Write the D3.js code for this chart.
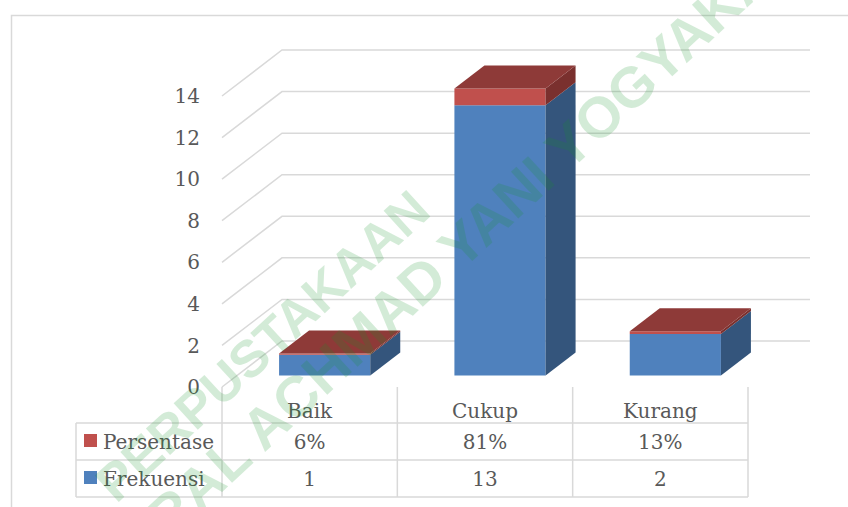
<!DOCTYPE html>
<html>
<head>
<meta charset="utf-8">
<script src="https://cdn.jsdelivr.net/npm/d3@7"></script>
<style>
  body { margin: 0; background: #fff; }
  .lbl { font-family: "DejaVu Serif", serif; fill: #595959; font-size: 20px; }
  .wm { font-family: "Liberation Sans", Arial, sans-serif; font-weight: bold; fill: rgb(20,150,40); }
</style>
</head>
<body>
<div id="chart"></div>
<script>
// Chart data
const categories = ["Baik", "Cukup", "Kurang"];
const frekuensi = [1, 13, 2];
const persentase = [0.06, 0.81, 0.13];
const persentaseLabels = ["6%", "81%", "13%"];
const yTicks = [0, 2, 4, 6, 8, 10, 12, 14];
const seriesNames = ["Persentase", "Frekuensi"];

const width = 848;
const height = 507;

const svg = d3.select("#chart").append("svg")
    .attr("width", width)
    .attr("height", height);

// chart border
svg.append("rect")
    .attr("x", 11.5).attr("y", 15.5)
    .attr("width", 900).attr("height", 600)
    .attr("fill", "none")
    .attr("stroke", "#d9d9d9")
    .attr("stroke-width", 1.5);

// 3D geometry (oblique)
const depthX = 60, depthY = -46;
const x = d3.scaleBand().domain(categories).range([222, 748])
    .paddingInner(0.48).paddingOuter(0.24);
const cols = d3.scaleBand().domain(categories).range([222, 748]);
const y = d3.scaleLinear().domain([0, 14]).range([387, 96]);

const pt = (px, v, d) => [px + d * depthX, y(v) + d * depthY];
const poly = pts => pts.map(p => p.join(",")).join(" ");

// gridlines: side wall diagonals + back wall
const grid = svg.append("g").attr("stroke", "#d9d9d9").attr("stroke-width", 1.5).attr("fill", "none");
yTicks.forEach(t => {
    grid.append("polyline")
        .attr("points", poly([pt(222, t, 0), pt(222, t, 1), pt(750, t, 1)]));
});

// y axis labels
svg.append("g").selectAll("text")
    .data(yTicks).enter().append("text")
    .attr("class", "lbl")
    .attr("x", 200)
    .attr("y", d => y(d))
    .attr("dy", "0.36em")
    .attr("text-anchor", "end")
    .text(d => d);

// stacked 3D bars
const stack = categories.map((c, i) => ({
    cat: c,
    segs: [
        { v0: 0, v1: frekuensi[i], front: "#4f81bd", side: "#34557c", top: "#3d6797" },
        { v0: frekuensi[i], v1: frekuensi[i] + persentase[i], front: "#c0504d", side: "#7a302e", top: "#8e3a38" }
    ]
}));
const d0 = 0.25, d1 = 0.75;
const bars = svg.append("g");
stack.forEach(b => {
    const bx = x(b.cat), bw = x.bandwidth();
    b.segs.forEach((s, k) => {
        bars.append("polygon")
            .attr("points", poly([pt(bx, s.v0, d0), pt(bx + bw, s.v0, d0), pt(bx + bw, s.v1, d0), pt(bx, s.v1, d0)]))
            .attr("fill", s.front);
        bars.append("polygon")
            .attr("points", poly([pt(bx + bw, s.v0, d0), pt(bx + bw, s.v0, d1), pt(bx + bw, s.v1, d1), pt(bx + bw, s.v1, d0)]))
            .attr("fill", s.side);
        if (k === b.segs.length - 1) {
            bars.append("polygon")
                .attr("points", poly([pt(bx, s.v1, d0), pt(bx + bw, s.v1, d0), pt(bx + bw, s.v1, d1), pt(bx, s.v1, d1)]))
                .attr("fill", s.top);
        }
    });
});

// data table
const table = svg.append("g");
const lines = table.append("g").attr("stroke", "#d9d9d9").attr("stroke-width", 1.5);
const rowY = [423, 460, 497];
rowY.forEach(ry => lines.append("line").attr("x1", 76).attr("x2", 748).attr("y1", ry).attr("y2", ry));
lines.append("line").attr("x1", 76).attr("x2", 76).attr("y1", 423).attr("y2", 497);
categories.concat(["end"]).forEach((c, i) => {
    const lx = i < categories.length ? cols(c) : 748;
    lines.append("line").attr("x1", lx).attr("x2", lx).attr("y1", 387).attr("y2", 497);
});

table.selectAll("text.cat")
    .data(categories).enter().append("text")
    .attr("class", "lbl")
    .attr("x", d => cols(d) + cols.bandwidth() / 2)
    .attr("y", 418)
    .attr("text-anchor", "middle")
    .text(d => d);

const rows = [
    { name: seriesNames[0], color: "#c0504d", vals: persentaseLabels, base: 449 },
    { name: seriesNames[1], color: "#4f81bd", vals: frekuensi, base: 486 }
];
rows.forEach(r => {
    table.append("rect")
        .attr("x", 84).attr("y", r.base - 15)
        .attr("width", 13).attr("height", 13)
        .attr("fill", r.color);
    table.append("text")
        .attr("class", "lbl")
        .attr("x", 103).attr("y", r.base)
        .text(r.name);
    table.selectAll(null)
        .data(r.vals).enter().append("text")
        .attr("class", "lbl")
        .attr("x", (d, i) => cols(categories[i]) + cols.bandwidth() / 2)
        .attr("y", r.base)
        .attr("text-anchor", "middle")
        .text(d => d);
});

// watermark
const wm = svg.append("g").attr("opacity", 0.18);
wm.append("text")
    .attr("class", "wm")
    .style("font-size", "52px")
    .attr("transform", "translate(433,214) rotate(-42.5)")
    .attr("text-anchor", "end")
    .text("PERPUSTAKAAN");
wm.append("text")
    .attr("class", "wm")
    .style("font-size", "57px")
    .attr("transform", "translate(29,670) rotate(-42.7)")
    .text("JENDERAL ACHMAD YANI YOGYAKARTA");
</script>
</body>
</html>
